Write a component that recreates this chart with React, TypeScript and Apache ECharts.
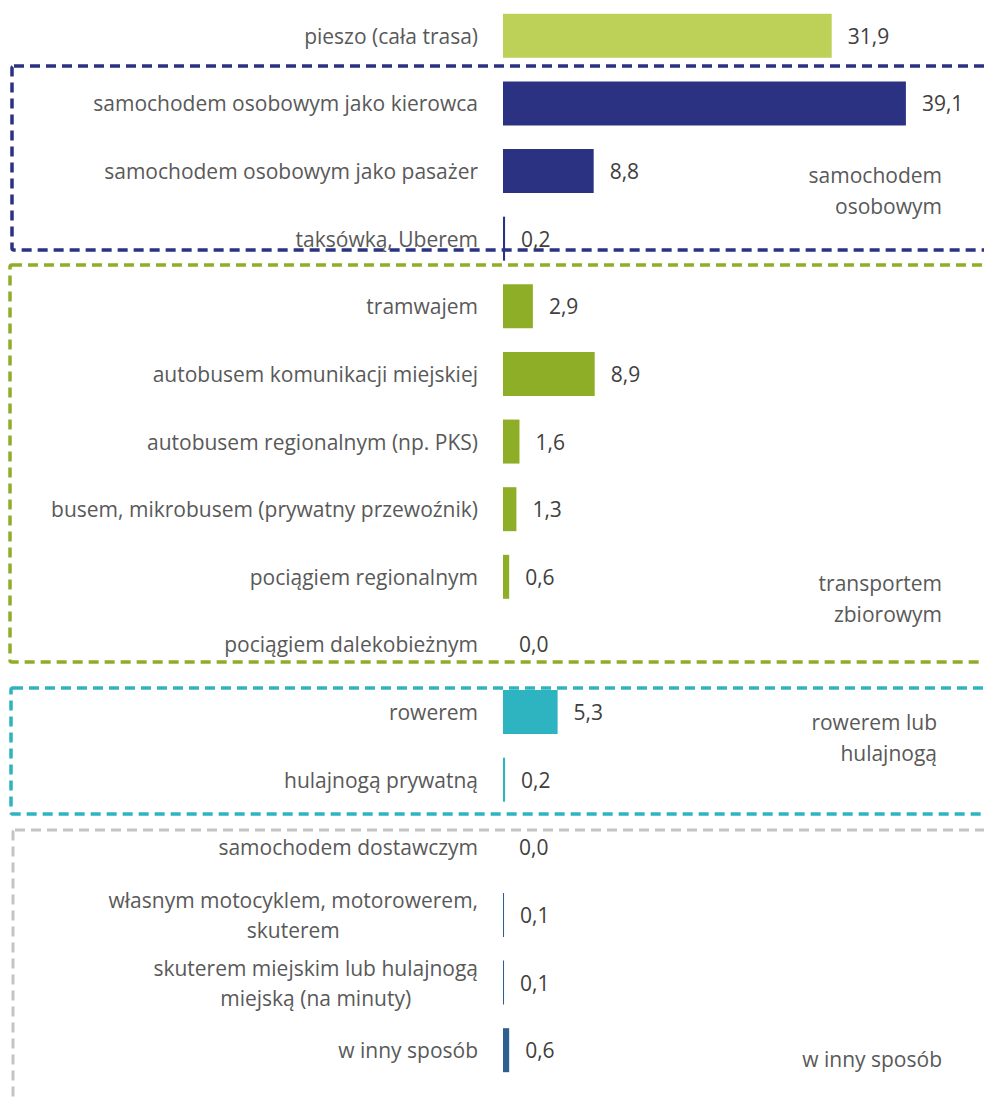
import React, { useEffect, useRef } from "react";
import * as echarts from "echarts";

const categories = [
  "pieszo (cała trasa)",
  "samochodem osobowym jako kierowca",
  "samochodem osobowym jako pasażer",
  "taksówką, Uberem",
  "tramwajem",
  "autobusem komunikacji miejskiej",
  "autobusem regionalnym (np. PKS)",
  "busem, mikrobusem (prywatny przewoźnik)",
  "pociągiem regionalnym",
  "pociągiem dalekobieżnym",
  "rowerem",
  "hulajnogą prywatną",
  "samochodem dostawczym",
  "własnym motocyklem, motorowerem,\nskuterem",
  "skuterem miejskim lub hulajnogą\nmiejską (na minuty)",
  "w inny sposób",
];

const values = [31.9, 39.1, 8.8, 0.2, 2.9, 8.9, 1.6, 1.3, 0.6, 0.0, 5.3, 0.2, 0.0, 0.1, 0.1, 0.6];

const barColors = [
  "#BDD159",
  "#2B3281", "#2B3281", "#2B3281",
  "#8FAE27", "#8FAE27", "#8FAE27", "#8FAE27", "#8FAE27", "#8FAE27",
  "#2EB4C0", "#2EB4C0",
  "#2F5F8F", "#2F5F8F", "#2F5F8F", "#2F5F8F",
];

const groupLabels = ["samochodem\nosobowym", "transportem\nzbiorowym", "rowerem lub\nhulajnogą", "w inny sposób"];

const FONT = "Open Sans";
const FS = 21;

export default function App() {
  const ref = useRef<HTMLDivElement>(null);
  useEffect(() => {
    document.body.style.margin = "0";
    const chart = echarts.init(ref.current!, null, { renderer: "svg" });
    const box = (x: number, y: number, w: number, h: number, color: string, lw: number) => ({
      type: "rect",
      shape: { x, y, width: w, height: h, r: 2 },
      style: { fill: "none", stroke: color, lineWidth: lw, lineDash: [10, 6] },
      silent: true,
      z: 0,
    });
    const glabel = (right: number, y: number, text: string) => ({
      type: "text",
      x: right,
      y,
      style: {
        text,
        align: "right",
        verticalAlign: "top",
        font: `${FS}px "${FONT}"`,
        fill: "#595959",
        lineHeight: 31,
      },
      silent: true,
    });
    chart.setOption({
      animation: false,
      grid: { left: 503, right: 7, top: 2, bottom: 16, containLabel: false },
      xAxis: {
        type: "value",
        min: 0,
        max: 46,
        show: false,
      },
      yAxis: {
        type: "category",
        inverse: true,
        data: categories,
        axisLine: { show: false },
        axisTick: { show: false },
        axisLabel: {
          margin: 25,
          fontFamily: FONT,
          fontSize: FS,
          color: "#595959",
          lineHeight: 30,
          formatter: (v: string) => v.split("\n").map((l) => `{c|${l}}`).join("\n"),
          rich: { c: { align: "center", fontFamily: FONT, fontSize: FS, color: "#595959", lineHeight: 30 } },
        },
      },
      series: [
        {
          type: "bar",
          barWidth: 44,
          data: values.map((v, i) => ({ value: v, itemStyle: { color: barColors[i] } })),
          label: {
            show: true,
            position: "right",
            distance: 16,
            fontFamily: FONT,
            fontSize: FS,
            color: "#404040",
            formatter: (p: any) => p.value.toFixed(1).replace(".", ","),
          },
        },
      ],
      graphic: [
        box(12, 66, 1000, 184, "#2B3281", 3.5),
        box(10, 265, 1000, 397, "#8FAE27", 3.5),
        box(11, 688, 1000, 126, "#2EB4C0", 3.5),
        box(13, 830, 1000, 400, "#C4C4C4", 3),
        glabel(942, 159, groupLabels[0]),
        glabel(942, 567, groupLabels[1]),
        glabel(937, 706, groupLabels[2]),
        glabel(942, 1043, groupLabels[3]),
      ],
    });
    return () => chart.dispose();
  }, []);
  return <div ref={ref} style={{ width: 984, height: 1100 }} />;
}
